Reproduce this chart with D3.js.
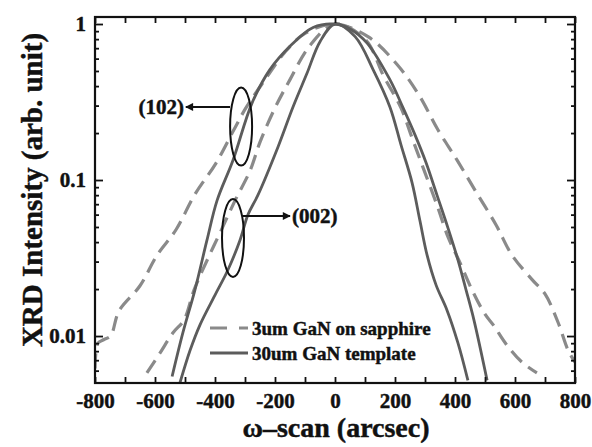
<!DOCTYPE html>
<html>
<head>
<meta charset="utf-8">
<script src="https://cdn.jsdelivr.net/npm/d3@7"></script>
<style>
  html, body { margin: 0; padding: 0; background: #fff; }
  svg text { font-family: "Liberation Serif", "Times New Roman", serif; font-weight: bold; fill: #111;
    stroke: #111; stroke-width: 0.45px; }
</style>
</head>
<body>
<svg id="chart" width="592" height="447"></svg>
<script>
// omega-scan values (arcsec) and normalised intensity
const sapphire102 = [
  [-800, 0.0062], [-790, 0.0090], [-770, 0.0095], [-748, 0.0100], [-720, 0.0145],
  [-650, 0.021], [-593, 0.033], [-530, 0.048], [-467, 0.081], [-397, 0.128],
  [-337, 0.21], [-297, 0.29], [-233, 0.44], [-167, 0.66], [-100, 0.87], [0, 1.0],
  [110, 0.83], [207, 0.55], [280, 0.35], [343, 0.21], [407, 0.134], [470, 0.084],
  [537, 0.0515], [590, 0.033], [657, 0.023], [700, 0.0186], [743, 0.0123],
  [777, 0.0081], [800, 0.0068]
];
const sapphire002 = [
  [-627, 0.0058], [-583, 0.0078], [-540, 0.0105], [-503, 0.0127], [-470, 0.0197],
  [-423, 0.0316], [-383, 0.046], [-333, 0.074], [-283, 0.115], [-250, 0.175],
  [-200, 0.29], [-150, 0.44], [-83, 0.73], [0, 1.0], [100, 0.80], [163, 0.46],
  [220, 0.29], [257, 0.186], [293, 0.121], [340, 0.069], [377, 0.043], [417, 0.0294],
  [457, 0.0197], [500, 0.0138], [530, 0.0116], [570, 0.0089], [623, 0.0068], [673, 0.0058]
];
const template102 = [
  [-543, 0.0055], [-507, 0.0105], [-467, 0.0197], [-427, 0.041], [-393, 0.074],
  [-340, 0.134], [-277, 0.31], [-217, 0.51], [-150, 0.72], [-73, 0.95], [0, 1.0],
  [50, 0.93], [107, 0.755], [183, 0.44], [227, 0.29], [267, 0.194], [303, 0.130],
  [340, 0.080], [377, 0.049], [410, 0.0307], [437, 0.0197], [463, 0.0127], [507, 0.0052]
];
const template002 = [
  [-517, 0.0050], [-483, 0.0081], [-450, 0.0118], [-400, 0.0183], [-357, 0.0265],
  [-317, 0.041], [-290, 0.060], [-257, 0.080], [-190, 0.163], [-140, 0.294],
  [-93, 0.485], [-50, 0.77], [0, 1.0], [67, 0.83], [127, 0.51],
  [183, 0.294], [220, 0.168], [257, 0.096], [283, 0.055], [307, 0.033], [337, 0.0212],
  [373, 0.0147], [410, 0.009], [443, 0.0052]
];

const xTicks = [-800, -700, -600, -500, -400, -300, -200, -100, 0, 100, 200, 300, 400, 500, 600, 700, 800];
const xLabels = [-800, -600, -400, -200, 0, 200, 400, 600, 800];
const yMajor = [0.01, 0.1, 1];
const yMinor = [0.006, 0.007, 0.008, 0.009, 0.02, 0.03, 0.04, 0.05, 0.06, 0.07, 0.08, 0.09,
  0.2, 0.3, 0.4, 0.5, 0.6, 0.7, 0.8, 0.9];

const legendItems = ["3um GaN on sapphire", "30um GaN template"];
const ellipses = [
  { label: "(102)", cx: -313, cy: 0.22, arrowY: 0.294, from: -350, to: -497, side: "left" },
  { label: "(002)", cx: -340, cy: 0.0425, arrowY: 0.0588, from: -307, to: -150, side: "right" }
];

const svg = d3.select("#chart");
const plot = { left: 95, right: 575, top: 17, bottom: 383 };

const x = d3.scaleLinear().domain([-800, 800]).range([plot.left, plot.right]);
const y = d3.scaleLog().domain([0.0050, 1.109]).range([plot.bottom, plot.top]);

const defs = svg.append("defs");
defs.append("clipPath").attr("id", "plotclip")
  .append("rect").attr("x", plot.left).attr("y", plot.top)
  .attr("width", plot.right - plot.left).attr("height", plot.bottom - plot.top);

const line = d3.line()
  .x(d => x(d[0]))
  .y(d => y(d[1]))
  .curve(d3.curveCatmullRom.alpha(0.5));

const curves = svg.append("g").attr("clip-path", "url(#plotclip)");

[sapphire102, sapphire002].forEach(s => {
  curves.append("path").attr("d", line(s))
    .attr("fill", "none").attr("stroke", "#8a8a8a")
    .attr("stroke-width", 3.2).attr("stroke-dasharray", "15,8");
});
[template102, template002].forEach(s => {
  curves.append("path").attr("d", line(s))
    .attr("fill", "none").attr("stroke", "#5c5c5c")
    .attr("stroke-width", 2.8);
});

// axes, ticks inward on all four sides
function styleAxis(g) {
  g.select(".domain").remove();
  g.selectAll(".tick line").attr("stroke", "#111").attr("stroke-width", 1.8);
  g.selectAll(".tick text").attr("fill", "#111").style("font-size", "21px");
}

svg.append("g").attr("transform", `translate(0,${plot.bottom})`)
  .call(d3.axisBottom(x).tickValues(xTicks).tickSizeInner(-6).tickSizeOuter(0).tickPadding(10)
    .tickFormat(d => xLabels.includes(d) ? String(d) : ""))
  .call(styleAxis);
svg.append("g").attr("transform", `translate(0,${plot.top})`)
  .call(d3.axisTop(x).tickValues(xTicks).tickSizeInner(-6).tickSizeOuter(0).tickFormat(""))
  .call(styleAxis);

svg.append("g").attr("transform", `translate(${plot.left},0)`)
  .call(d3.axisLeft(y).tickValues(yMajor).tickSizeInner(-8).tickSizeOuter(0).tickPadding(9)
    .tickFormat(d => String(d)))
  .call(styleAxis);
svg.append("g").attr("transform", `translate(${plot.left},0)`)
  .call(d3.axisLeft(y).tickValues(yMinor).tickSizeInner(-4).tickSizeOuter(0).tickFormat(""))
  .call(styleAxis);
svg.append("g").attr("transform", `translate(${plot.right},0)`)
  .call(d3.axisRight(y).tickValues(yMajor).tickSizeInner(-8).tickSizeOuter(0).tickFormat(""))
  .call(styleAxis);
svg.append("g").attr("transform", `translate(${plot.right},0)`)
  .call(d3.axisRight(y).tickValues(yMinor).tickSizeInner(-4).tickSizeOuter(0).tickFormat(""))
  .call(styleAxis);

svg.append("rect")
  .attr("x", plot.left).attr("y", plot.top)
  .attr("width", plot.right - plot.left).attr("height", plot.bottom - plot.top)
  .attr("fill", "none").attr("stroke", "#111").attr("stroke-width", 2.2);

// axis titles
svg.append("text")
  .attr("x", (plot.left + plot.right) / 2 + 1).attr("y", 437)
  .attr("text-anchor", "middle").style("font-size", "28px")
  .text("ω–scan (arcsec)");
svg.append("text")
  .attr("transform", `translate(42,${(plot.top + plot.bottom) / 2 - 10}) rotate(-90)`)
  .attr("text-anchor", "middle").style("font-size", "29px")
  .text("XRD Intensity (arb. unit)");

// ellipses and arrows
defs.append("marker")
  .attr("id", "arrow").attr("viewBox", "0 0 10 10")
  .attr("refX", 9).attr("refY", 5)
  .attr("markerWidth", 6.5).attr("markerHeight", 4).attr("orient", "auto")
  .append("path").attr("d", "M0,0L10,5L0,10Z").attr("fill", "#111");

const ann = svg.append("g");
ellipses.forEach(e => {
  ann.append("ellipse")
    .attr("cx", x(e.cx)).attr("cy", y(e.cy))
    .attr("rx", 11).attr("ry", 39)
    .attr("fill", "none").attr("stroke", "#111").attr("stroke-width", 2);
  ann.append("line")
    .attr("x1", x(e.from)).attr("x2", x(e.to))
    .attr("y1", y(e.arrowY)).attr("y2", y(e.arrowY))
    .attr("stroke", "#111").attr("stroke-width", 2)
    .attr("marker-end", "url(#arrow)");
  ann.append("text")
    .attr("x", e.side === "left" ? x(e.to) - 2 : x(e.to) + 2)
    .attr("y", y(e.arrowY)).attr("dy", "0.35em")
    .attr("text-anchor", e.side === "left" ? "end" : "start")
    .style("font-size", "21px")
    .text(e.label);
});

// legend
const legend = svg.append("g").attr("transform", "translate(210,328)");
legendItems.forEach((name, i) => {
  const g = legend.append("g").attr("transform", `translate(0,${i * 25})`);
  g.append("line").attr("x1", 0).attr("x2", 38)
    .attr("stroke", i === 0 ? "#8a8a8a" : "#5c5c5c")
    .attr("stroke-width", i === 0 ? 3.2 : 2.8)
    .attr("stroke-dasharray", i === 0 ? "17,12" : null);
  g.append("text").attr("x", 42).attr("dy", "0.35em")
    .style("font-size", "19px").text(name);
});
</script>
</body>
</html>
